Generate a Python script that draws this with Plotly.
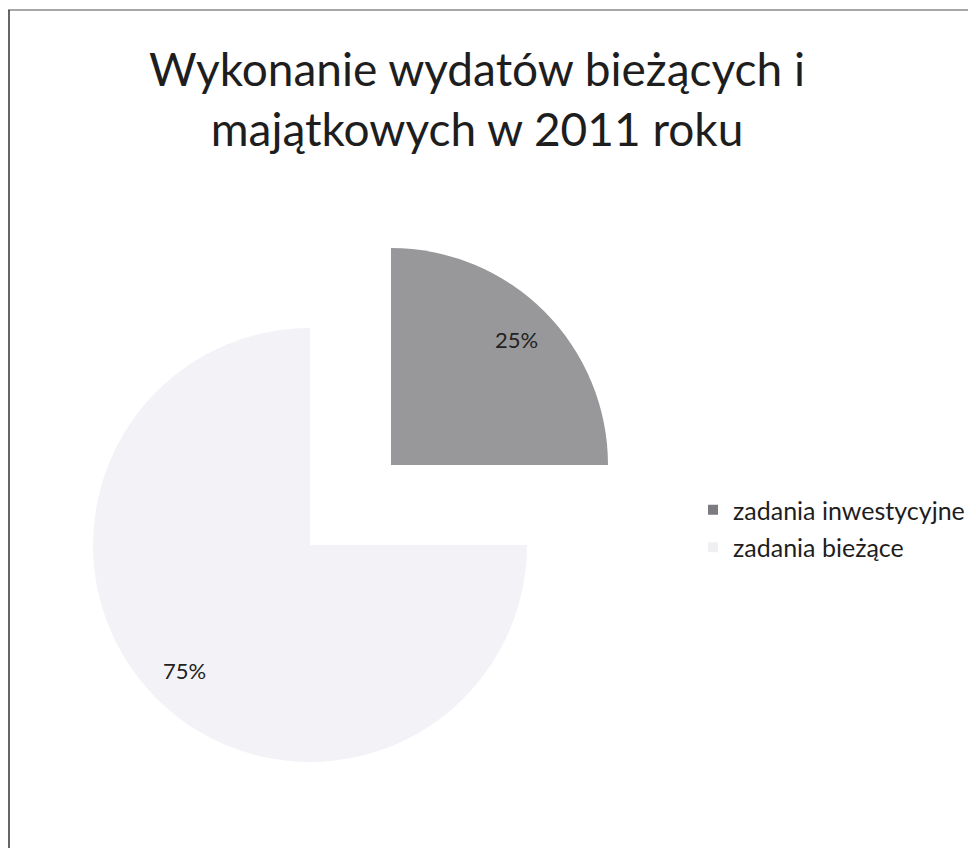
import math
import plotly.graph_objects as go

# Data
labels = ["zadania inwestycyjne", "zadania bieżące"]
values = [25, 75]
colors = ["#98989b", "#f3f3f7"]
legend_colors = ["#7b7b80", "#f0f0f3"]
title_text = "Wykonanie wydatów bieżących i<br>majątkowych w 2011 roku"

# page body has an 8px margin; all layout coordinates below are screen px
OFF = 8
W, H = 976 - OFF, 848 - OFF
FONT = "Lato"

def fx(x):
    return (x - OFF) / W

def fy(y):
    return 1 - (y - OFF) / H

def px_dom(cx, cy, r):
    return dict(x=[fx(cx - r), fx(cx + r)], y=[fy(cy + r), fy(cy - r)])

R = 217
centers = [(391, 465), (310, 545)]  # exploded slice, main pie

fig = go.Figure()

# main (light) slice
fig.add_trace(go.Pie(
    labels=labels, values=values, sort=False, direction="clockwise", rotation=0,
    marker=dict(colors=["rgba(0,0,0,0)", colors[1]], line=dict(width=0)),
    textinfo="none", domain=px_dom(*centers[1], R), showlegend=False, hoverinfo="skip",
))
# exploded (dark) slice
fig.add_trace(go.Pie(
    labels=labels, values=values, sort=False, direction="clockwise", rotation=0,
    marker=dict(colors=[colors[0], "rgba(0,0,0,0)"], line=dict(width=0)),
    textinfo="none", domain=px_dom(*centers[0], R), showlegend=False, hoverinfo="skip",
))

# percentage labels placed along each slice's mid-angle
total = sum(values)
annotations = []
cum = 0
for i, v in enumerate(values):
    mid = (cum + v / 2) / total * 2 * math.pi
    cum += v
    cx, cy = centers[i]
    lx = cx + 0.82 * R * math.sin(mid)
    ly = cy - 0.82 * R * math.cos(mid)
    annotations.append(dict(
        x=fx(lx), y=fy(ly), xref="paper", yref="paper", showarrow=False,
        xanchor="center", yanchor="middle",
        text=f"{round(v / total * 100)}%", font=dict(family=FONT, size=22, color="#222"),
    ))

# legend entries
for lab, col in zip(labels, legend_colors):
    fig.add_trace(go.Scatter(
        x=[0], y=[0], mode="markers", name=lab, legendgroup=lab,
        marker=dict(symbol="square", size=10, color=col), hoverinfo="skip",
    ))

fig.update_layout(
    width=W, height=H,
    margin=dict(l=0, r=0, t=0, b=0),
    paper_bgcolor="white", plot_bgcolor="white",
    title=dict(text=title_text, x=fx(477), xanchor="center", y=1 - 78 / H, yanchor="top",
               font=dict(family=FONT, size=46, color="#1e1e1e")),
    xaxis=dict(visible=False, range=[1, 2]),
    yaxis=dict(visible=False, range=[1, 2]),
    legend=dict(x=fx(693), y=fy(528.5), xanchor="left", yanchor="middle",
                font=dict(family=FONT, size=25, color="#1e1e1e"),
                tracegroupgap=2, bgcolor="rgba(0,0,0,0)"),
    annotations=annotations,
    shapes=[
        dict(type="line", xref="paper", yref="paper", x0=0, x1=1.01, y0=fy(10), y1=fy(10),
             line=dict(color="#8a8a8a", width=1.5)),
        dict(type="line", xref="paper", yref="paper", x0=1 / W, x1=1 / W, y0=-0.01, y1=fy(10),
             line=dict(color="#333", width=1.5)),
    ],
)

fig.write_html("out.html")
